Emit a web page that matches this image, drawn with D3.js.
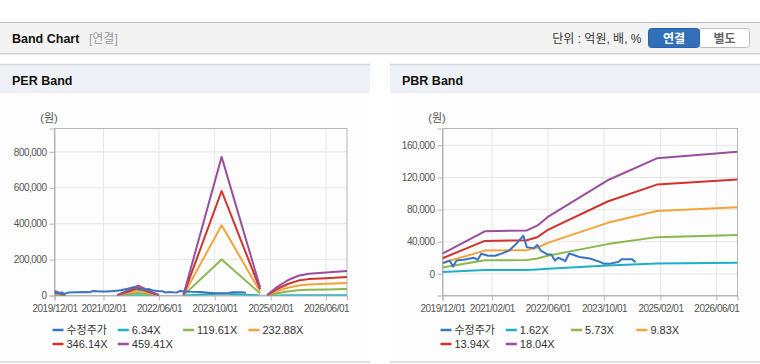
<!DOCTYPE html>
<html lang="ko">
<head>
<meta charset="UTF-8">
<title>Band Chart</title>
<script src="https://d3js.org/d3.v7.min.js"></script>
<style>
  body { margin: 0; background: #fff; font-family: "Liberation Sans", Arial, "Noto Sans CJK KR", sans-serif; }
  svg text { font-family: "Liberation Sans", Arial, "Noto Sans CJK KR", sans-serif; }
  .grid line { stroke: #e6e6e6; stroke-width: 1; }
  .axis path, .axis line { stroke: #b5b5b5; }
  .axis text { fill: #555; font-size: 10px; letter-spacing: -0.5px; }
  .band { fill: none; stroke-width: 2; stroke-linejoin: round; }
  .legend text { font-size: 11px; fill: #333; }
</style>
</head>
<body>
<svg id="chart" width="760" height="364"></svg>
<script>
// 공통
const xTickLabels = ["2019/12/01", "2021/02/01", "2022/06/01", "2023/10/01", "2025/02/01", "2026/06/01"];
const xStart = "2019/12/01", xEnd = "2026/12/01";
const colors = ["#3b75c0", "#1db0c6", "#8bb650", "#f2a43a", "#d0322c", "#974f9e"];

// 수정주가 (두 차트 공통)
const priceDates = ["2019/12", "2020/02", "2020/03", "2020/04", "2020/06", "2020/09", "2020/10", "2020/11",
  "2021/01", "2021/03", "2021/05", "2021/07", "2021/09", "2021/11", "2021/12", "2022/02", "2022/03",
  "2022/04", "2022/06", "2022/07", "2022/08", "2022/09", "2022/11", "2022/12", "2023/01", "2023/03",
  "2023/06", "2023/09", "2023/10", "2023/12", "2024/02", "2024/03", "2024/06", "2024/07"];
const priceValues = [13000, 16500, 9000, 16500, 17500, 20000, 17500, 25000,
  22500, 22500, 25500, 29000, 37500, 47500, 33000, 32000, 36000,
  29000, 24000, 24000, 16700, 20000, 16000, 25000, 24000, 21000,
  19000, 14600, 12500, 13000, 14600, 18000, 18000, 14600];

// PER Band
const perNames = ["수정주가", "6.34X", "119.61X", "232.88X", "346.14X", "459.41X"];
const perTicks = [0, 200000, 400000, 600000, 800000];
const perDates = ["2019/12", "2020/01", "2020/02", "2020/03", "2020/04",
  "2021/06", "2021/09", "2021/12", "2022/03", "2022/06", "2022/07",
  "2023/01", "2023/12", "2024/11", "2024/12",
  "2025/01", "2025/04", "2025/07", "2025/10", "2026/01", "2026/06", "2026/12"];
const per634 = [350, 250, 110, 40, null, 30, 400, 760, 400, 30, null, 40, 10700, 600, null,
  30, 660, 1170, 1520, 1670, 1770, 1890];
const per11961 = [6500, 4700, 2100, 800, null, 500, 7300, 14300, 7300, 500, null, 800, 201000, 12000, null,
  500, 12500, 22100, 28600, 31500, 33300, 35700];
const per23288 = [12700, 9100, 4100, 1500, null, 1000, 14200, 27900, 14200, 1000, null, 1500, 391000, 23000, null,
  1000, 24300, 43100, 55800, 61300, 64900, 69400];
const per34614 = [18800, 13600, 6000, 2300, null, 1500, 21000, 41400, 21000, 1500, null, 2300, 582000, 35000, null,
  1500, 36200, 64000, 82900, 91200, 96400, 103200];
const per45941 = [25000, 18000, 8000, 3000, null, 2000, 28000, 55000, 28000, 2000, null, 3000, 772000, 46000, null,
  2000, 48000, 85000, 110000, 121000, 128000, 137000];

// PBR Band
const pbrNames = ["수정주가", "1.62X", "5.73X", "9.83X", "13.94X", "18.04X"];
const pbrTicks = [0, 40000, 80000, 120000, 160000];
const pbrDates = ["2019/12", "2020/12", "2021/12", "2022/03", "2022/06", "2023/11", "2025/01", "2026/12"];
const pbr162 = [2300, 4800, 4900, 5500, 6400, 10500, 12900, 13700];
const pbr573 = [8000, 16800, 17200, 19000, 22500, 37000, 45700, 48300];
const pbr983 = [13700, 28900, 29500, 32500, 38600, 63500, 78300, 82900];
const pbr1394 = [19400, 41000, 41800, 45500, 54800, 90100, 111100, 117500];
const pbr1804 = [25100, 53000, 54100, 60000, 70900, 116500, 143800, 152100];

const parseM = d3.timeParse("%Y/%m");
const parseD = d3.timeParse("%Y/%m/%d");
const svg = d3.select("#chart");

// 상단 바
svg.append("rect").attr("x", 0).attr("y", 22).attr("width", 760).attr("height", 31).attr("fill", "#f3f3f3");
svg.append("line").attr("x1", 0).attr("x2", 760).attr("y1", 22.5).attr("y2", 22.5).attr("stroke", "#bdbdbd");
svg.append("line").attr("x1", 0).attr("x2", 760).attr("y1", 53.5).attr("y2", 53.5).attr("stroke", "#cfcfcf");
svg.append("line").attr("x1", 0).attr("x2", 760).attr("y1", 54.5).attr("y2", 54.5).attr("stroke", "#ececec");
svg.append("text").attr("x", 12).attr("y", 43).attr("font-size", "12.5px").attr("font-weight", "bold")
  .attr("fill", "#111").text("Band Chart");
svg.append("text").attr("x", 89).attr("y", 43).attr("font-size", "12px").attr("fill", "#999").text("[연결]");
svg.append("text").attr("x", 641.5).attr("y", 43).attr("text-anchor", "end").attr("font-size", "12px")
  .attr("fill", "#333").text("단위 : 억원, 배, %");

// 연결 / 별도 버튼
svg.append("rect").attr("x", 699).attr("y", 28.5).attr("width", 50.5).attr("height", 19).attr("rx", 3)
  .attr("fill", "#fff").attr("stroke", "#bdbdbd");
svg.append("rect").attr("x", 648.5).attr("y", 28.5).attr("width", 51).attr("height", 19).attr("rx", 3)
  .attr("fill", "#3170b8").attr("stroke", "#2a62a3");
svg.append("text").attr("x", 674).attr("y", 42.5).attr("text-anchor", "middle").attr("font-size", "12px")
  .attr("font-weight", "bold").attr("fill", "#fff").text("연결");
svg.append("text").attr("x", 724.5).attr("y", 42.5).attr("text-anchor", "middle").attr("font-size", "12px")
  .attr("font-weight", "bold").attr("fill", "#666").text("별도");

function drawPanel(cfg) {
  const g = svg.append("g");
  // 패널 배경 / 헤더
  g.append("rect").attr("x", cfg.x0).attr("y", 93).attr("width", cfg.w).attr("height", 268).attr("fill", "#fdfdfd");
  g.append("rect").attr("x", cfg.x0).attr("y", 64).attr("width", cfg.w).attr("height", 29).attr("fill", "#eef2f8");
  g.append("line").attr("x1", cfg.x0).attr("x2", cfg.x0 + cfg.w).attr("y1", 64.5).attr("y2", 64.5)
    .attr("stroke", "#d4d4d4").attr("stroke-width", 1.5);
  g.append("line").attr("x1", cfg.x0).attr("x2", cfg.x0 + cfg.w).attr("y1", 362).attr("y2", 362)
    .attr("stroke", "#d6d6d6").attr("stroke-width", 1.5);
  g.append("text").attr("x", cfg.x0 + 12).attr("y", 84.5).attr("font-size", "12.5px").attr("font-weight", "bold")
    .attr("fill", "#111").text(cfg.title);

  const x = d3.scaleTime().domain([parseD(xStart), parseD(xEnd)]).range([cfg.left, cfg.right]);
  const y = d3.scaleLinear().domain(cfg.yDomain).range([cfg.bottom, cfg.top]);
  const xTicks = xTickLabels.map(parseD);

  // 격자
  const grid = g.append("g").attr("class", "grid");
  grid.selectAll("line.v").data(xTicks.slice(1)).join("line").attr("class", "v")
    .attr("x1", d => x(d)).attr("x2", d => x(d)).attr("y1", cfg.top).attr("y2", cfg.bottom);
  grid.selectAll("line.h").data(cfg.yTicks).join("line").attr("class", "h")
    .attr("x1", cfg.left).attr("x2", cfg.right).attr("y1", d => y(d)).attr("y2", d => y(d));

  // 외곽선
  g.append("rect").attr("x", cfg.left).attr("y", cfg.top).attr("width", cfg.right - cfg.left)
    .attr("height", cfg.bottom - cfg.top).attr("fill", "none").attr("stroke", "#b5b5b5");

  g.append("g").attr("class", "axis").attr("transform", `translate(0,${cfg.bottom})`)
    .call(d3.axisBottom(x).tickValues(xTicks).tickFormat(d3.timeFormat("%Y/%m/%d")).tickSize(5).tickPadding(4));
  g.append("g").attr("class", "axis").attr("transform", `translate(${cfg.left},0)`)
    .call(d3.axisLeft(y).tickValues(cfg.yTicks).tickFormat(d3.format(",")).tickSize(5).tickPadding(3));

  g.append("text").attr("x", cfg.left - 5.5).attr("y", 122).attr("font-size", "11px").attr("fill", "#555")
    .attr("text-anchor", "middle").text("(원)");

  const line = d3.line().defined(d => d[1] != null).x(d => x(d[0])).y(d => y(d[1]));
  const clipId = "clip" + cfg.x0;
  g.append("clipPath").attr("id", clipId).append("rect").attr("x", cfg.left).attr("y", cfg.top)
    .attr("width", cfg.right - cfg.left).attr("height", cfg.bottom - cfg.top);
  const lines = g.append("g").attr("clip-path", `url(#${clipId})`);

  const bandPts = cfg.bands.map(vals => vals.map((v, i) => [parseM(cfg.dates[i]), v]));
  lines.selectAll("path.band").data(bandPts).join("path").attr("class", "band")
    .attr("stroke", (d, i) => colors[i + 1]).attr("d", line);
  const pricePts = priceValues.map((v, i) => [parseM(priceDates[i]), v]);
  lines.append("path").attr("class", "band").attr("stroke", colors[0]).attr("d", line(pricePts));

  // 범례
  const leg = g.append("g").attr("class", "legend");
  const items = leg.selectAll("g").data(cfg.names).join("g")
    .attr("transform", (d, i) => `translate(${cfg.left - 2 + (i % 4) * 65.3},${i < 4 ? 330 : 344})`);
  items.append("line").attr("x1", 0).attr("x2", 11).attr("y1", 0).attr("y2", 0)
    .attr("stroke", (d, i) => colors[i]).attr("stroke-width", 2.5);
  items.append("text").attr("x", 14).attr("y", 4).text(d => d);
}

drawPanel({
  x0: 0, w: 370, title: "PER Band", left: 54.5, right: 347, top: 128.5, bottom: 295.5,
  yDomain: [0, 930000], yTicks: perTicks, dates: perDates,
  bands: [per634, per11961, per23288, per34614, per45941], names: perNames
});
drawPanel({
  x0: 390, w: 370, title: "PBR Band", left: 442.5, right: 737.5, top: 128.5, bottom: 295.5,
  yDomain: [-27000, 181000], yTicks: pbrTicks, dates: pbrDates,
  bands: [pbr162, pbr573, pbr983, pbr1394, pbr1804], names: pbrNames
});
</script>
</body>
</html>
